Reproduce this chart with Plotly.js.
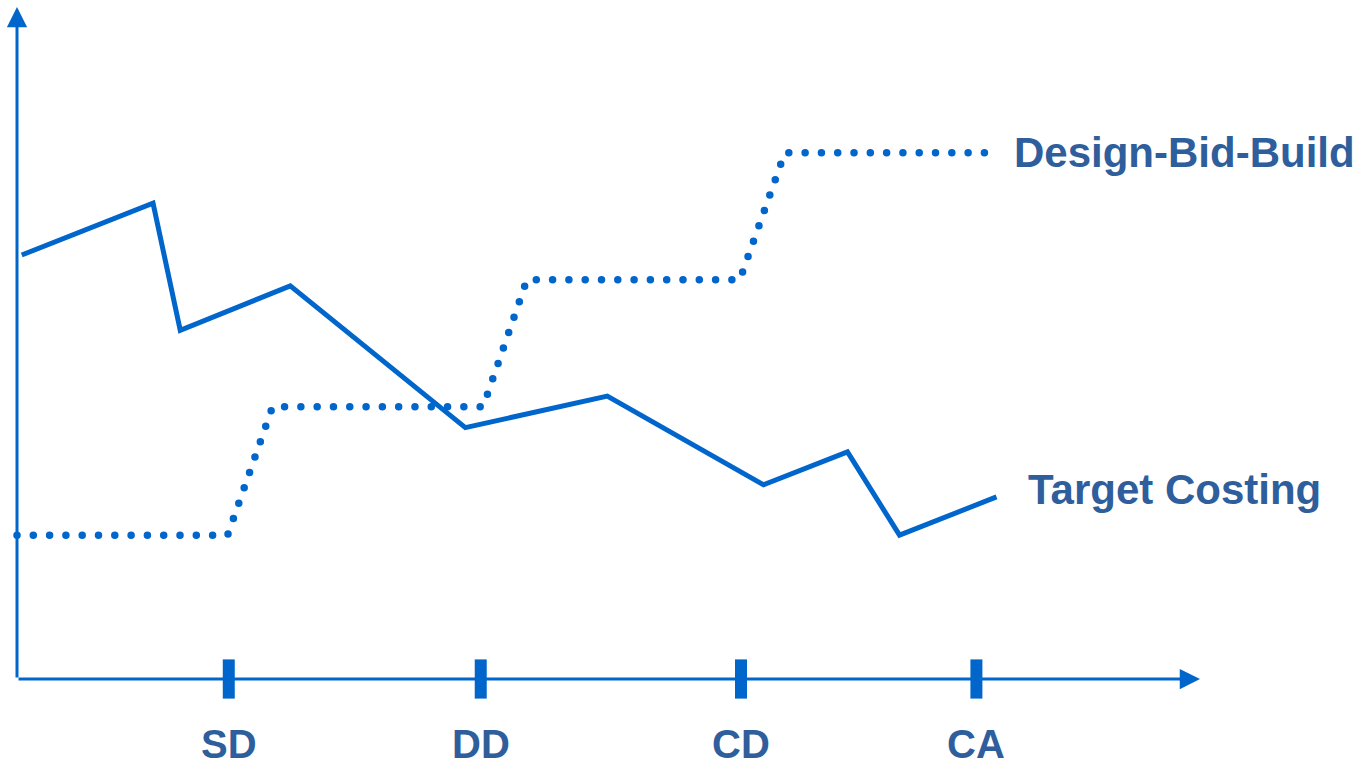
<!DOCTYPE html>
<html>
<head>
<meta charset="utf-8">
<script src="https://cdn.plot.ly/plotly-3.0.1.min.js"></script>
<style>
  html, body { margin: 0; padding: 0; background: #ffffff; }
  #chart { width: 1363px; height: 766px; }
</style>
</head>
<body>
<div id="chart"></div>
<script>
// Project phases along the horizontal axis
const phaseLabels = ['SD', 'DD', 'CD', 'CA'];
const phaseX = [17.9, 39.2, 61.2, 81.1];

// Target Costing: cost estimate fluctuating but trending down
const targetX = [0.4, 11.5, 13.8, 23.1, 37.9, 49.9, 63.1, 70.2, 74.6, 82.8];
const targetY = [63.1, 70.8, 51.9, 58.5, 37.4, 42.1, 28.9, 33.8, 21.4, 27.1];

// Design-Bid-Build: cost estimate stepping up at each phase
const dbbX = [0, 17.8, 21.6, 39.4, 43.1, 61.1, 64.9, 81.8];
const dbbY = [21.4, 21.4, 40.5, 40.5, 59.4, 59.4, 78.3, 78.3];

const seriesNames = ['Design-Bid-Build', 'Target Costing'];

// Scale: pixels per data unit and origin offset inside the figure
const W = 1363, H = 766;
const PX_X = 11.83, PX_Y = 6.72;
const ORIGIN_PX = [17, 679];

const blue = '#0066CC';
const textBlue = '#2E5E9B';
const font = { family: 'Liberation Sans, Arial, sans-serif', size: 42, color: textBlue, weight: 'bold' };
const phaseFont = Object.assign({}, font, { size: 40 });

const traces = [
  {
    x: dbbX, y: dbbY, mode: 'lines', name: seriesNames[0],
    line: { color: blue, width: 7.5, dash: '0px,16.3px' },
    cliponaxis: false, hoverinfo: 'skip'
  },
  {
    x: targetX, y: targetY, mode: 'lines', name: seriesNames[1],
    line: { color: blue, width: 5 },
    cliponaxis: false, hoverinfo: 'skip'
  },
  {
    // phase tick bars crossing the horizontal axis
    x: phaseX, y: phaseX.map(() => 0), mode: 'markers',
    marker: { symbol: 'line-ns', size: 28, color: blue, line: { color: blue, width: 12 } },
    cliponaxis: false, hoverinfo: 'skip', showlegend: false
  }
];

const xTip = (1200 - ORIGIN_PX[0]) / PX_X;
const yTip = (ORIGIN_PX[1] - 7) / PX_Y;

const annotations = [
  // axes drawn as arrows
  { x: xTip, y: 0, ax: 0, ay: 0, xref: 'x', yref: 'y', axref: 'x', ayref: 'y',
    text: '', showarrow: true, arrowhead: 2, arrowsize: 1.35, arrowwidth: 3, arrowcolor: blue },
  { x: 0, y: yTip, ax: 0, ay: 0, xref: 'x', yref: 'y', axref: 'x', ayref: 'y',
    text: '', showarrow: true, arrowhead: 2, arrowsize: 1.35, arrowwidth: 3, arrowcolor: blue },
  // series labels at the line ends
  { x: dbbX[dbbX.length - 1], y: dbbY[dbbY.length - 1], xref: 'x', yref: 'y',
    text: seriesNames[0], showarrow: false, xanchor: 'left', yanchor: 'middle',
    xshift: 27, yshift: 0, font: font },
  { x: targetX[targetX.length - 1], y: targetY[targetY.length - 1], xref: 'x', yref: 'y',
    text: seriesNames[1], showarrow: false, xanchor: 'left', yanchor: 'middle',
    xshift: 29, yshift: 7, font: font }
];

// phase labels under the tick bars
phaseLabels.forEach((lab, i) => {
  annotations.push({
    x: phaseX[i], y: (ORIGIN_PX[1] - 744) / PX_Y, xref: 'x', yref: 'y',
    text: lab, showarrow: false, xanchor: 'center', yanchor: 'middle', font: phaseFont
  });
});

const layout = {
  width: W, height: H,
  margin: { l: 0, r: 0, t: 0, b: 0, pad: 0 },
  paper_bgcolor: '#ffffff', plot_bgcolor: '#ffffff',
  showlegend: false,
  xaxis: { range: [-ORIGIN_PX[0] / PX_X, (W - ORIGIN_PX[0]) / PX_X], visible: false, fixedrange: true },
  yaxis: { range: [-(H - ORIGIN_PX[1]) / PX_Y, ORIGIN_PX[1] / PX_Y], visible: false, fixedrange: true },
  annotations: annotations
};

Plotly.newPlot('chart', traces, layout, { staticPlot: true, displayModeBar: false }).then(() => {
  // round caps turn the zero-length dashes into dots
  document.querySelectorAll('path.js-line').forEach(p => {
    if ((p.style.strokeDasharray || '').indexOf('16') !== -1) {
      p.style.strokeLinecap = 'round';
    }
  });
});
</script>
</body>
</html>
